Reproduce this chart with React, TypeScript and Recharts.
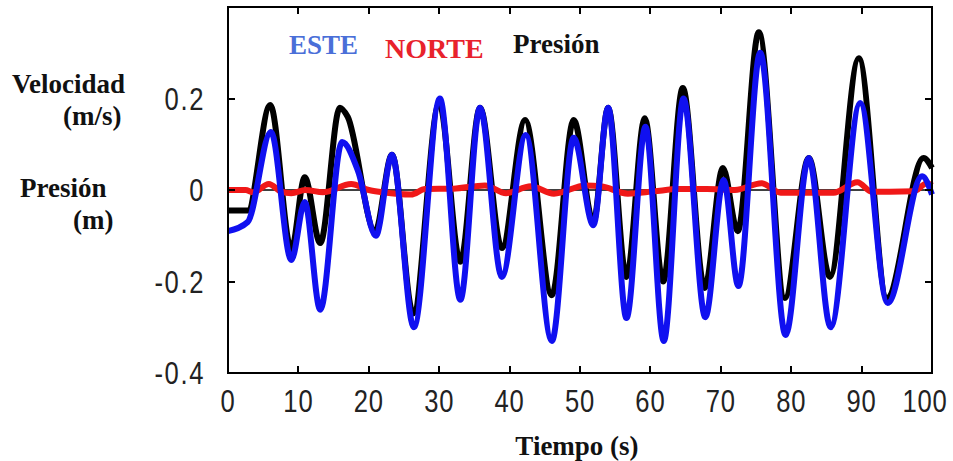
import { LineChart, Line, XAxis, YAxis, ReferenceLine } from 'recharts';

// Tiempo (s) / valor para cada serie
const presionT = [0, 2.8, 6.0, 9.0, 10.9, 13.1, 15.9, 17.0, 20.9, 23.3, 26.3, 30.0, 33.0, 35.8, 38.9, 42.2, 46.0, 49.1, 51.9, 54.0, 56.6, 59.2, 61.8, 64.6, 67.7, 70.3, 72.4, 75.4, 79.1, 82.5, 85.5, 89.6, 93.6, 98.8, 100];
const presionV = [-0.045, -0.045, 0.186, -0.13, 0.028, -0.116, 0.18, 0.16, -0.09, 0.077, -0.27, 0.19, -0.157, 0.18, -0.127, 0.153, -0.23, 0.153, -0.07, 0.18, -0.19, 0.157, -0.2, 0.223, -0.214, 0.048, -0.09, 0.345, -0.236, 0.07, -0.19, 0.288, -0.236, 0.07, 0.048];

const esteT = [0, 2.8, 6.1, 9.0, 10.9, 13.1, 16.2, 18.5, 21.0, 23.3, 26.4, 30.1, 33.0, 35.8, 38.9, 42.3, 46.0, 49.1, 51.9, 54.0, 56.6, 59.3, 61.9, 64.7, 67.8, 70.4, 72.5, 75.6, 79.2, 82.5, 85.6, 89.8, 93.7, 98.6, 100];
const esteV = [-0.09, -0.07, 0.127, -0.153, -0.026, -0.262, 0.105, 0.04, -0.1, 0.077, -0.3, 0.2, -0.24, 0.18, -0.19, 0.12, -0.33, 0.114, -0.077, 0.18, -0.28, 0.138, -0.33, 0.2, -0.278, 0.022, -0.21, 0.3, -0.317, 0.07, -0.3, 0.19, -0.247, 0.03, -0.01];

const norteT = [0, 2.5, 3.6, 5.8, 7.5, 9, 11, 13.5, 17.5, 20, 22, 26, 28, 32, 36.5, 39.5, 43, 46.3, 50.8, 53, 56.8, 60.5, 64, 68, 72, 75.8, 78.5, 82, 86, 89.4, 91.5, 94, 97.4, 99.3, 100];
const norteV = [0, 0, -0.005, 0.013, -0.003, -0.007, 0, -0.005, 0.013, 0, -0.005, -0.01, 0.002, 0.003, 0.01, -0.007, 0.008, -0.008, 0.01, 0.008, -0.008, -0.003, 0.002, 0.002, 0, 0.015, -0.006, -0.006, -0.006, 0.017, -0.004, -0.004, -0.003, 0.015, 0.01];

const xTicks = [0, 10, 20, 30, 40, 50, 60, 70, 80, 90, 100];
const yTicks = [-0.4, -0.2, 0, 0.2];
const X_MIN = 0;
const X_MAX = 100;
const Y_MIN = -0.4;
const Y_MAX = 0.4;

// layout of the plot box (chart margin + axis sizes)
const W = 953;
const H = 461;
const MARGIN = { top: 7, right: 21, bottom: 0, left: 0 };
const Y_AXIS_W = 228;
const X_AXIS_H = 88;
const BOX = {
  left: MARGIN.left + Y_AXIS_W,
  right: W - MARGIN.right,
  top: MARGIN.top,
  bottom: H - MARGIN.bottom - X_AXIS_H,
};
const TICK_LEN = 7;

const toRows = (ts: number[], vs: number[]) => ts.map((t, i) => ({ t, v: vs[i] }));

const presionData = toRows(presionT, presionV);
const esteData = toRows(esteT, esteV);
const norteData = toRows(norteT, norteV);

const sx = (t: number) => BOX.left + ((t - X_MIN) / (X_MAX - X_MIN)) * (BOX.right - BOX.left);
const sy = (v: number) => BOX.bottom - ((v - Y_MIN) / (Y_MAX - Y_MIN)) * (BOX.bottom - BOX.top);

const tickFont = '"Liberation Sans", Arial, sans-serif';
const labelFont = '"Liberation Serif", "Times New Roman", serif';

const BottomTick = ({ x, y, payload }: any) => {
  const tx = payload.value === 100 ? x - 7 : x;
  return (
    <text transform={`translate(${tx},${y + 37}) scale(0.8,1)`} textAnchor="middle" fontFamily={tickFont} fontSize={32} letterSpacing={1} fill="#222">
      {payload.value}
    </text>
  );
};

const LeftTick = ({ x, y, payload }: any) => (
  <text transform={`translate(${x - 21},${y + 11}) scale(0.8,1)`} textAnchor="end" fontFamily={tickFont} fontSize={32} letterSpacing={2} fill="#222">
    {payload.value}
  </text>
);

const dark = '#000';

// MATLAB-style box with inward ticks, drawn as plain positioned divs
const AxesBox = () => {
  const innerX = xTicks.filter((t) => t > X_MIN && t < X_MAX);
  const innerY = yTicks.filter((v) => v > Y_MIN && v < Y_MAX);
  const abs = { position: 'absolute' as const, background: dark };
  return (
    <>
      <div
        style={{
          position: 'absolute',
          left: BOX.left - 1,
          top: BOX.top - 1,
          width: BOX.right - BOX.left + 2,
          height: BOX.bottom - BOX.top + 2,
          border: `2px solid ${dark}`,
          boxSizing: 'border-box',
          pointerEvents: 'none',
        }}
      />
      {innerX.map((t) => (
        <div key={`xb${t}`} style={{ ...abs, left: sx(t) - 1, top: BOX.bottom - TICK_LEN, width: 2, height: TICK_LEN }} />
      ))}
      {innerX.map((t) => (
        <div key={`xt${t}`} style={{ ...abs, left: sx(t) - 1, top: BOX.top, width: 2, height: TICK_LEN }} />
      ))}
      {innerY.map((v) => (
        <div key={`yl${v}`} style={{ ...abs, left: BOX.left, top: sy(v) - 1, width: TICK_LEN, height: 2 }} />
      ))}
      {innerY.map((v) => (
        <div key={`yr${v}`} style={{ ...abs, left: BOX.right - TICK_LEN, top: sy(v) - 1, width: TICK_LEN, height: 2 }} />
      ))}
    </>
  );
};

export default function App() {
  return (
    <div style={{ position: 'absolute', left: 0, top: 0, width: W, height: H, background: '#fff' }}>
      <LineChart width={W} height={H} margin={MARGIN}>
        <XAxis
          type="number"
          dataKey="t"
          domain={[X_MIN, X_MAX]}
          ticks={xTicks}
          height={X_AXIS_H}
          tickSize={0}
          tickLine={false}
          axisLine={{ stroke: '#000', strokeWidth: 2 }}
          tick={(p: any) => <BottomTick {...p} />}
        />
        <YAxis
          type="number"
          domain={[Y_MIN, Y_MAX]}
          ticks={yTicks}
          width={Y_AXIS_W}
          tickSize={0}
          tickLine={false}
          axisLine={{ stroke: '#000', strokeWidth: 2 }}
          tick={(p: any) => <LeftTick {...p} />}
        />
        <ReferenceLine y={0} stroke="#000" strokeWidth={1.5} />
        <Line data={presionData} dataKey="v" type="monotone" stroke="#000" strokeWidth={6} dot={false} activeDot={false} isAnimationActive={false} />
        <Line data={norteData} dataKey="v" type="monotone" stroke="#f01818" strokeWidth={6} dot={false} activeDot={false} isAnimationActive={false} />
        <Line data={esteData} dataKey="v" type="monotone" stroke="#1010f0" strokeWidth={6} dot={false} activeDot={false} isAnimationActive={false} />
      </LineChart>
      <AxesBox />
      <svg width={W} height={H} style={{ position: 'absolute', left: 0, top: 0, pointerEvents: 'none' }}>
        <g fontFamily={labelFont} fontWeight="bold" fontSize={27} fill="#111">
          <text x={12} y={93}>Velocidad</text>
          <text x={63} y={125}>(m/s)</text>
          <text x={20} y={197}>Presión</text>
          <text x={73} y={229}>(m)</text>
          <text x={577} y={455} textAnchor="middle">Tiempo (s)</text>
        </g>
        <g fontFamily={labelFont} fontWeight="bold">
          <text x={289} y={54} fontSize={27} fill="#4a6fd8">ESTE</text>
          <text x={385} y={58} fontSize={28} fill="#e8222c">NORTE</text>
          <text x={513} y={53} fontSize={27} fill="#111">Presión</text>
        </g>
      </svg>
    </div>
  );
}
